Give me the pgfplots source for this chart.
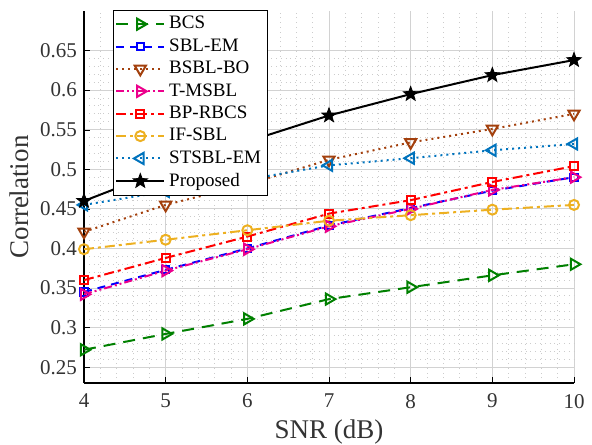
\documentclass[border=0pt]{standalone}
\usepackage{pgfplots}
\pgfplotsset{compat=1.18}
\usepackage{fontspec}
\setmainfont{Liberation Serif}
\definecolor{cbcs}{rgb}{0,0.5,0}
\definecolor{cbsbl}{rgb}{0.64,0.25,0.05}
\definecolor{cif}{rgb}{0.93,0.69,0.13}
\definecolor{cst}{rgb}{0,0.45,0.74}
\pgfdeclareplotmark{fstar}{%
  \pgfpathmoveto{\pgfpointpolar{90}{\pgfplotmarksize}}%
  \pgfpathlineto{\pgfpointpolar{126}{0.42\pgfplotmarksize}}%
  \pgfpathlineto{\pgfpointpolar{162}{\pgfplotmarksize}}%
  \pgfpathlineto{\pgfpointpolar{198}{0.42\pgfplotmarksize}}%
  \pgfpathlineto{\pgfpointpolar{234}{\pgfplotmarksize}}%
  \pgfpathlineto{\pgfpointpolar{270}{0.42\pgfplotmarksize}}%
  \pgfpathlineto{\pgfpointpolar{306}{\pgfplotmarksize}}%
  \pgfpathlineto{\pgfpointpolar{342}{0.42\pgfplotmarksize}}%
  \pgfpathlineto{\pgfpointpolar{18}{\pgfplotmarksize}}%
  \pgfpathlineto{\pgfpointpolar{54}{0.42\pgfplotmarksize}}%
  \pgfpathclose
  \pgfusepathqfillstroke}
\begin{document}
\begin{tikzpicture}
\begin{axis}[name=ax,
  scale only axis, width=245pt, height=186pt,
  xmin=4, xmax=10, ymin=0.23, ymax=0.70,
  xtick={4,5,...,10},
  ytick={0.25,0.3,...,0.66},
  yticklabels={0.25,0.3,0.35,0.4,0.45,0.5,0.55,0.6,0.65},
  minor x tick num=4, minor y tick num=4,
  axis x line*=bottom, axis y line*=left,
  axis line style={black, line width=0.6pt},
  tick style={black}, tick align=inside,
  major tick length=3pt, minor tick length=0pt,
  grid=both,
  major grid style={gray!35, line width=0.4pt},
  minor grid style={gray!40, dotted, line width=0.5pt},
  /pgf/number format/assume math mode=true,
  ticklabel style={font=\fontsize{10.5}{12}\selectfont, text=black!80},
  xticklabel style={yshift=-2pt},
  xlabel={SNR (dB)}, ylabel={Correlation},
  label style={font=\fontsize{13.5}{15}\selectfont, text=black!80},
  xlabel style={yshift=1pt},
  ylabel style={yshift=-1pt},
  legend style={at={(0.059,1.003)}, anchor=north west, font=\fontsize{9.5}{11}\selectfont,
     draw=black, line width=0.5pt, inner sep=1pt, row sep=-0.6pt, fill=white},
  legend cell align=left,
  legend image code/.code={\draw[mark repeat=2,mark phase=2,#1] plot coordinates {(0cm,0cm) (0.42cm,0cm) (0.84cm,0cm)};},
  every axis plot/.append style={line width=1pt},
]
\addplot[cbcs, dash pattern=on 6pt off 4pt, mark=triangle, mark size=3.2pt, mark options={solid, rotate=-90}]
 coordinates {(4,0.272)(5,0.292)(6,0.311)(7,0.336)(8,0.351)(9,0.366)(10,0.380)};
\addlegendentry{BCS}
\addplot[blue, dash pattern=on 4pt off 3pt, mark=square, mark size=1.8pt, mark options={solid}]
 coordinates {(4,0.345)(5,0.373)(6,0.400)(7,0.429)(8,0.451)(9,0.473)(10,0.490)};
\addlegendentry{SBL-EM}
\addplot[cbsbl, dotted, mark=triangle, mark size=3.2pt, mark options={solid, rotate=180}]
 coordinates {(4,0.421)(5,0.455)(6,0.481)(7,0.512)(8,0.534)(9,0.551)(10,0.570)};
\addlegendentry{BSBL-BO}
\addplot[magenta, dash pattern=on 4pt off 1.5pt on 1pt off 1.5pt on 1pt off 1.5pt, mark=triangle, mark size=3.2pt, mark options={solid, rotate=-90}]
 coordinates {(4,0.342)(5,0.372)(6,0.399)(7,0.428)(8,0.450)(9,0.474)(10,0.490)};
\addlegendentry{T-MSBL}
\addplot[red, dash pattern=on 5pt off 2pt on 1.5pt off 2pt, mark=square, mark size=2pt, mark options={solid}]
 coordinates {(4,0.360)(5,0.388)(6,0.415)(7,0.444)(8,0.461)(9,0.484)(10,0.504)};
\addlegendentry{BP-RBCS}
\addplot[cif, dash pattern=on 5pt off 2pt on 1.5pt off 2pt, mark=o, mark size=2.5pt, mark options={solid}]
 coordinates {(4,0.399)(5,0.411)(6,0.423)(7,0.435)(8,0.442)(9,0.449)(10,0.455)};
\addlegendentry{IF-SBL}
\addplot[cst, dotted, mark=triangle, mark size=3.2pt, mark options={solid, rotate=90}]
 coordinates {(4,0.455)(5,0.472)(6,0.487)(7,0.505)(8,0.514)(9,0.524)(10,0.532)};
\addlegendentry{STSBL-EM}
\addplot[black, solid, mark=fstar, mark size=3.8pt, mark options={solid, fill=black, line width=0.4pt}]
 coordinates {(4,0.460)(5,0.500)(6,0.535)(7,0.568)(8,0.595)(9,0.619)(10,0.638)};
\addlegendentry{Proposed}
\end{axis}
\pgfresetboundingbox
\path[use as bounding box] ([xshift=-42pt,yshift=-30.5pt]ax.south west) rectangle ([xshift=9pt,yshift=5.5pt]ax.north east);
\end{tikzpicture}
\end{document}
